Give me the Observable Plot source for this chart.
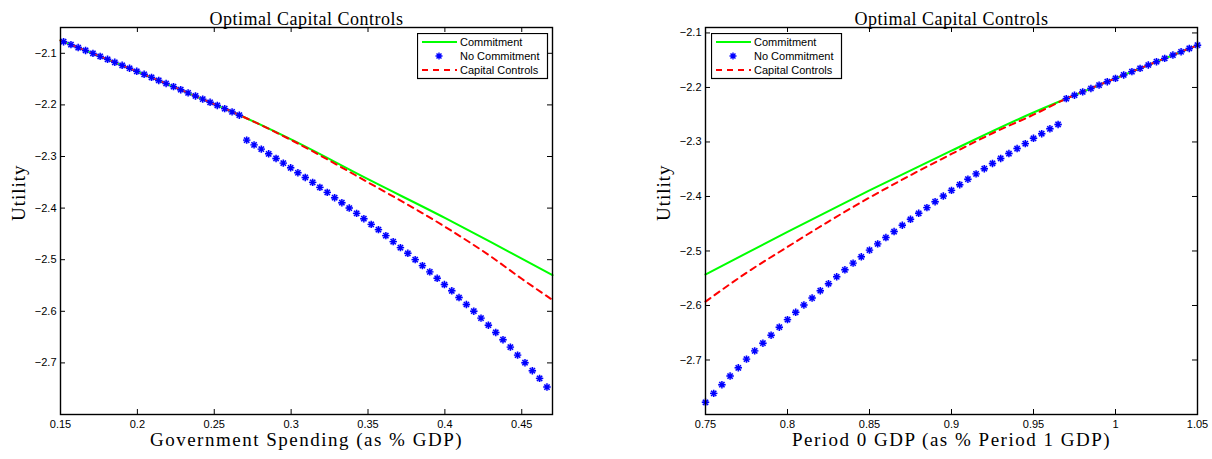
<!DOCTYPE html>
<html><head><meta charset="utf-8">
<script src="https://cdn.jsdelivr.net/npm/d3@7"></script>
<script src="https://cdn.jsdelivr.net/npm/@observablehq/plot@0.6"></script>
<style>
body{margin:0;background:#fff;}
#wrap{position:relative;width:1212px;height:459px;overflow:hidden;background:#fff}
#wrap > svg, #wrap > div{position:absolute;top:0;}
</style></head><body><div id="wrap"></div>
<script>
// ---------- data ----------
const titleText = "Optimal Capital Controls";
const seriesNames = ["Commitment", "No Commitment", "Capital Controls"];
const leftXLabel = "Government Spending (as % GDP)";
const rightXLabel = "Period 0 GDP (as % Period 1 GDP)";
const yLabel = "Utility";

// Left panel
const leftXTicks = [0.15, 0.2, 0.25, 0.3, 0.35, 0.4, 0.45];
const leftYTicks = [-2.1, -2.2, -2.3, -2.4, -2.5, -2.6, -2.7];
const leftNoCommitX = [0.1520,0.1568,0.1615,0.1663,0.1711,0.1758,0.1806,0.1853,0.1901,0.1949,0.1996,0.2044,0.2092,0.2139,0.2187,0.2235,0.2282,0.2330,0.2378,0.2425,0.2473,0.2520,0.2568,0.2616,0.2663,
 0.2711,0.2759,0.2806,0.2854,0.2902,0.2949,0.2997,0.3044,0.3092,0.3140,0.3187,0.3235,0.3283,0.3330,0.3378,0.3426,0.3473,0.3521,0.3568,0.3616,0.3664,0.3711,0.3759,0.3807,0.3854,0.3902,0.3950,0.3997,0.4045,0.4092,0.4140,0.4188,0.4235,0.4283,0.4331,0.4378,0.4426,0.4473,0.4521,0.4569,0.4616,0.4664];
const leftNoCommitY = [-2.0775,-2.0831,-2.0888,-2.0945,-2.1001,-2.1059,-2.1116,-2.1174,-2.1232,-2.1290,-2.1349,-2.1407,-2.1467,-2.1526,-2.1585,-2.1645,-2.1705,-2.1766,-2.1827,-2.1888,-2.1949,-2.2011,-2.2073,-2.2135,-2.2200,
 -2.2683,-2.2774,-2.2857,-2.2948,-2.3038,-2.3128,-2.3219,-2.3315,-2.3406,-2.3502,-2.3599,-2.3696,-2.3799,-2.3896,-2.3999,-2.4102,-2.4205,-2.4315,-2.4418,-2.4534,-2.4650,-2.4766,-2.4876,-2.4998,-2.5114,-2.5236,-2.5360,-2.5482,-2.5603,-2.5733,-2.5868,-2.5998,-2.6133,-2.6269,-2.6410,-2.6551,-2.6694,-2.6849,-2.6996,-2.7151,-2.7300,-2.7468];
const leftCommitX = [0.15, 0.20, 0.25, 0.267, 0.30, 0.35, 0.40, 0.43, 0.45, 0.47];
const leftCommitY = [-2.075, -2.1355, -2.1985, -2.2205, -2.267, -2.344, -2.419, -2.466, -2.498, -2.530];
const leftCapX = [0.15, 0.20, 0.25, 0.267, 0.30, 0.35, 0.40, 0.43, 0.45, 0.47];
const leftCapY = [-2.075, -2.1355, -2.1985, -2.2205, -2.268, -2.350, -2.436, -2.494, -2.537, -2.578];

// Right panel
const rightXTicks = [0.75, 0.8, 0.85, 0.9, 0.95, 1, 1.05];
const rightYTicks = [-2.1, -2.2, -2.3, -2.4, -2.5, -2.6, -2.7];
const rightNoCommitX = [0.75,0.755,0.76,0.765,0.77,0.775,0.78,0.785,0.79,0.795,0.80,0.805,0.81,0.815,0.82,0.825,0.83,0.835,0.84,0.845,0.85,0.855,0.86,0.865,0.87,0.875,0.88,0.885,0.89,0.895,0.90,0.905,0.91,0.915,0.92,0.925,0.93,0.935,0.94,0.945,0.95,0.955,0.96,0.965,
 0.97,0.975,0.98,0.985,0.99,0.995,1.00,1.005,1.01,1.015,1.02,1.025,1.03,1.035,1.04,1.045,1.05];
const rightNoCommitY = [-2.7776,-2.7612,-2.7453,-2.7295,-2.7143,-2.6984,-2.6832,-2.6692,-2.6545,-2.6399,-2.6259,-2.6125,-2.5991,-2.5863,-2.5729,-2.5601,-2.5473,-2.5345,-2.5223,-2.5107,-2.4985,-2.4870,-2.4754,-2.4644,-2.4528,-2.4419,-2.4309,-2.4205,-2.4096,-2.3992,-2.3888,-2.3784,-2.3683,-2.3586,-2.3491,-2.3394,-2.3303,-2.3212,-2.3121,-2.3030,-2.2933,-2.2848,-2.2758,-2.2679,
 -2.2205,-2.2143,-2.2081,-2.2019,-2.1957,-2.1895,-2.1833,-2.1771,-2.1710,-2.1649,-2.1588,-2.1527,-2.1466,-2.1405,-2.1345,-2.1285,-2.1225];
const rightCommitX = [0.75, 0.80, 0.85, 0.90, 0.95, 0.97, 1.00, 1.05];
const rightCommitY = [-2.543, -2.465, -2.389, -2.316, -2.246, -2.2205, -2.1833, -2.1225];
const rightCapX = [0.75, 0.775, 0.80, 0.825, 0.85, 0.875, 0.90, 0.925, 0.95, 0.97, 1.00, 1.05];
const rightCapY = [-2.593, -2.540, -2.4925, -2.446, -2.402, -2.361, -2.322, -2.284, -2.250, -2.2205, -2.1833, -2.1225];

// ---------- styles ----------
const SANS = "'Liberation Sans', Arial, Helvetica, sans-serif";
const SERIF = "'Liberation Serif', 'Times New Roman', serif";
const GREEN = "#00ff00", RED = "#ff0000", BLUE = "#0000ff";

const star8 = {
  draw(ctx, size) {
    const r = Math.sqrt(size / Math.PI), d = r * Math.SQRT1_2;
    ctx.moveTo(-r, 0); ctx.lineTo(r, 0);
    ctx.moveTo(0, -r); ctx.lineTo(0, r);
    ctx.moveTo(-d, -d); ctx.lineTo(d, d);
    ctx.moveTo(-d, d); ctx.lineTo(d, -d);
  }
};

const fmt = d => (d < 0 ? "\u2212" : "") + String(Math.abs(d));
const zip = (xs, ys) => xs.map((x, i) => ({x, y: ys[i]}));

function panel(o) {
  const H = 459, mt = 27, mb = 45;
  const innerH = H - mt - mb;
  const innerW = o.width - o.marginLeft - o.marginRight;
  const svg = Plot.plot({
    width: o.width, height: H,
    marginLeft: o.marginLeft, marginRight: o.marginRight, marginTop: mt, marginBottom: mb,
    x: {domain: o.xDomain},
    y: {domain: o.yDomain},
    style: {background: "transparent", overflow: "visible", fontFamily: SANS},
    marks: [
      Plot.line(zip(o.commitX, o.commitY), {x: "x", y: "y", stroke: GREEN, strokeWidth: 2, curve: "monotone-x"}),
      Plot.line(zip(o.capX, o.capY), {x: "x", y: "y", stroke: RED, strokeWidth: 2, strokeDasharray: "6,5", curve: "monotone-x"}),
      Plot.dot(zip(o.dotX, o.dotY), {x: "x", y: "y", r: 3.7, fill: "#7d7dff", fillOpacity: 0.35, stroke: "none"}),
      Plot.dot(zip(o.dotX, o.dotY), {x: "x", y: "y", symbol: star8, r: 3.7, fill: "none", stroke: BLUE, strokeWidth: 1.4}),
      Plot.tickX(o.xTicks, {x: d => d, insetTop: innerH - 5, stroke: "black"}),
      Plot.tickX(o.xTicks, {x: d => d, insetBottom: innerH - 5, stroke: "black"}),
      Plot.tickY(o.yTicks, {y: d => d, insetRight: innerW - 5, stroke: "black"}),
      Plot.tickY(o.yTicks, {y: d => d, insetLeft: innerW - 5, stroke: "black"}),
      Plot.axisX({ticks: o.xTicks, tickSize: 0, tickPadding: 6, tickFormat: fmt, fontSize: 11, fontFamily: SANS, label: null}),
      Plot.axisY({ticks: o.yTicks, tickSize: 0, tickPadding: 4, tickFormat: fmt, fontSize: 11, fontFamily: SANS, label: null}),
      Plot.frame({stroke: "black", strokeWidth: 1.4}),
      Plot.text([titleText], {text: d => d, frameAnchor: "top", dy: -15, fontSize: 18, fontFamily: SERIF, fill: "black"}),
      Plot.text([o.xLabel], {text: d => d, frameAnchor: "bottom", dy: 31, fontSize: 19, fontFamily: SERIF, fill: "black"}),
      Plot.text([yLabel], {text: d => d, frameAnchor: "left", dx: -42, rotate: -90, fontSize: 19, fontFamily: SERIF, fill: "black"})
    ]
  });
  // letter-spacing to mimic the wide Computer Modern look of the reference
  d3.select(svg).selectAll("text").each(function() {
    const t = this.textContent;
    if (t === titleText) this.style.letterSpacing = "0.5px";
    else if (t === o.xLabel) this.style.letterSpacing = "1.5px";
    else if (t === yLabel) this.style.letterSpacing = "1px";
  });
  return svg;
}

function legend(left, top) {
  const w = 130, h = 45;
  const svg = d3.create("svg").attr("width", w + 2).attr("height", h + 2)
    .style("position", "absolute").style("left", left + "px").style("top", top + "px");
  svg.append("rect").attr("x", 0.5).attr("y", 0.5).attr("width", w).attr("height", h)
    .attr("fill", "white").attr("stroke", "black").attr("stroke-width", 1.2);
  const rows = [9, 23, 37];
  const g = svg.append("g");
  g.append("line").attr("x1", 5).attr("x2", 40).attr("y1", rows[0]).attr("y2", rows[0]).attr("stroke", GREEN).attr("stroke-width", 2);
  const c = 22, r = 3.5, dd = r * Math.SQRT1_2, y1 = rows[1];
  g.append("path").attr("d", `M${c-r},${y1}H${c+r}M${c},${y1-r}V${y1+r}M${c-dd},${y1-dd}L${c+dd},${y1+dd}M${c-dd},${y1+dd}L${c+dd},${y1-dd}`)
    .attr("stroke", BLUE).attr("stroke-width", 1.4).attr("fill", "none");
  g.append("line").attr("x1", 5).attr("x2", 40).attr("y1", rows[2]).attr("y2", rows[2]).attr("stroke", RED).attr("stroke-width", 2).attr("stroke-dasharray", "6,5");
  seriesNames.forEach((s, i) => {
    g.append("text").attr("x", 43).attr("y", rows[i]).attr("dy", "0.36em")
      .attr("font-family", SANS).attr("font-size", 11).attr("fill", "black").text(s);
  });
  return svg.node();
}

const wrap = document.getElementById("wrap");
const leftPlot = panel({
  width: 606, marginLeft: 60, marginRight: 54,
  xDomain: [0.15, 0.47], yDomain: [-2.8, -2.05],
  xTicks: leftXTicks, yTicks: leftYTicks,
  dotX: leftNoCommitX, dotY: leftNoCommitY,
  commitX: leftCommitX, commitY: leftCommitY,
  capX: leftCapX, capY: leftCapY,
  xLabel: leftXLabel
});
leftPlot.style.left = "0px";
wrap.appendChild(leftPlot);

const rightPlot = panel({
  width: 606, marginLeft: 99, marginRight: 15,
  xDomain: [0.75, 1.05], yDomain: [-2.8, -2.09],
  xTicks: rightXTicks, yTicks: rightYTicks,
  dotX: rightNoCommitX, dotY: rightNoCommitY,
  commitX: rightCommitX, commitY: rightCommitY,
  capX: rightCapX, capY: rightCapY,
  xLabel: rightXLabel
});
rightPlot.style.left = "606px";
wrap.appendChild(rightPlot);

wrap.appendChild(legend(417, 33));
wrap.appendChild(legend(711, 33));
</script>
</body></html>
